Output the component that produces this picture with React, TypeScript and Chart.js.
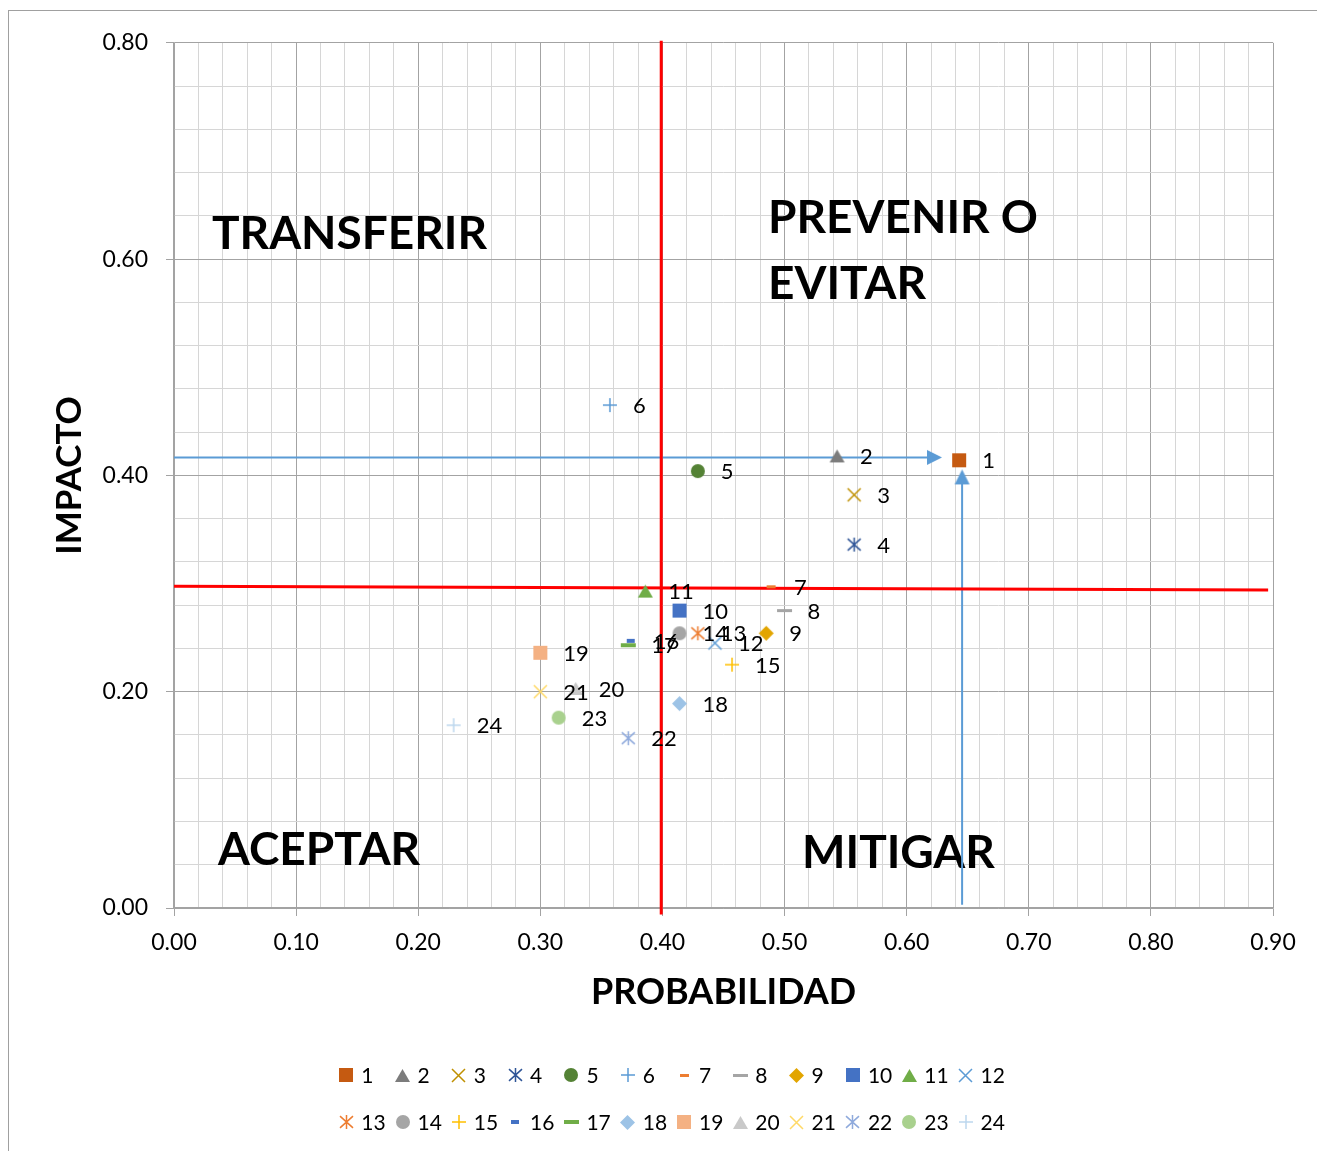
import React, { useEffect, useRef } from 'react';
import { Chart, registerables } from 'chart.js';

Chart.register(...registerables);

const FONT = 'Lato';

// ---- data ----
const seriesLabels = ['1', '2', '3', '4', '5', '6', '7', '8', '9', '10', '11', '12', '13', '14', '15', '16', '17', '18', '19', '20', '21', '22', '23', '24'];
const probabilidad = [0.643, 0.543, 0.557, 0.557, 0.429, 0.357, 0.489, 0.500, 0.485, 0.414, 0.386, 0.443, 0.429, 0.414, 0.457, 0.374, 0.372, 0.414, 0.300, 0.329, 0.300, 0.372, 0.315, 0.229];
const impacto = [0.414, 0.418, 0.382, 0.336, 0.404, 0.465, 0.297, 0.275, 0.254, 0.275, 0.293, 0.245, 0.254, 0.254, 0.225, 0.247, 0.243, 0.189, 0.236, 0.203, 0.200, 0.157, 0.176, 0.169];

const xTickLabels = ['0.00', '0.10', '0.20', '0.30', '0.40', '0.50', '0.60', '0.70', '0.80', '0.90'];
const yTickLabels = ['0.00', '0.20', '0.40', '0.60', '0.80'];

const quadrantLabels = ['TRANSFERIR', 'PREVENIR O', 'EVITAR', 'ACEPTAR', 'MITIGAR'];
const quadrantLabelX = [0.0311, 0.4865, 0.4865, 0.036, 0.5143];
const quadrantLabelY = [0.6092, 0.624, 0.5631, 0.0396, 0.0369];

const limiteProbX = [0.399, 0.399];
const limiteProbY = [0.802, -0.006];
const limiteImpX = [0, 0.896];
const limiteImpY = [0.2975, 0.294];
const flechaProbX = [0, 0.6228];
const flechaProbY = [0.4166, 0.4166];
const flechaImpX = [0.6454, 0.6454];
const flechaImpY = [0.003, 0.3986];

// ---- styles ----
const markerKinds = ['square', 'triangle', 'x', 'star', 'circle', 'plus', 'dash', 'dash', 'diamond', 'square', 'triangle', 'x', 'star', 'circle', 'plus', 'dash', 'dash', 'diamond', 'square', 'triangle', 'x', 'star', 'circle', 'plus'];
const markerColors = ['#C55A11', '#7C7C7C', '#BF9000', '#2F5597', '#548235', '#5B9BD5', '#ED7D31', '#A5A5A5', '#E2A500', '#4472C4', '#70AD47', '#5B9BD5', '#ED7D31', '#A5A5A5', '#FFC000', '#4472C4', '#70AD47', '#9DC3E6', '#F4B183', '#C9C9C9', '#FFD966', '#8FAADC', '#A9D18E', '#BDD7EE'];
const markerW = [14, 15, 13, 13, 14, 14, 9, 15, 15, 14, 15, 13, 13, 14, 14, 8, 15, 15, 14, 15, 13, 13, 14, 14];
const markerH = [14, 13, 13, 14, 14, 14, 3, 3, 15, 14, 13, 13, 14, 14, 14, 4, 4, 15, 14, 13, 13, 14, 14, 14];

function makeMarker(kind: string, color: string, w: number, h: number): HTMLCanvasElement {
  const c = document.createElement('canvas');
  const pad = 2;
  c.width = Math.ceil(w + pad * 2);
  c.height = Math.ceil(h + pad * 2);
  const g = c.getContext('2d') as CanvasRenderingContext2D;
  const cx = c.width / 2;
  const cy = c.height / 2;
  g.fillStyle = color;
  g.strokeStyle = color;
  g.lineWidth = 1.5;
  g.beginPath();
  switch (kind) {
    case 'square':
    case 'dash':
      g.fillRect(cx - w / 2, cy - h / 2, w, h);
      break;
    case 'circle':
      g.ellipse(cx, cy, w / 2, h / 2, 0, 0, Math.PI * 2);
      g.fill();
      break;
    case 'triangle':
    case 'arrow':
      g.moveTo(cx, cy - h / 2);
      g.lineTo(cx + w / 2, cy + h / 2);
      g.lineTo(cx - w / 2, cy + h / 2);
      g.closePath();
      g.fill();
      break;
    case 'diamond':
      g.moveTo(cx, cy - h / 2);
      g.lineTo(cx + w / 2, cy);
      g.lineTo(cx, cy + h / 2);
      g.lineTo(cx - w / 2, cy);
      g.closePath();
      g.fill();
      break;
    case 'x':
      g.moveTo(cx - w / 2, cy - h / 2);
      g.lineTo(cx + w / 2, cy + h / 2);
      g.moveTo(cx + w / 2, cy - h / 2);
      g.lineTo(cx - w / 2, cy + h / 2);
      g.stroke();
      break;
    case 'star':
      g.moveTo(cx - w / 2, cy - h / 2.4);
      g.lineTo(cx + w / 2, cy + h / 2.4);
      g.moveTo(cx + w / 2, cy - h / 2.4);
      g.lineTo(cx - w / 2, cy + h / 2.4);
      g.moveTo(cx, cy - h / 2);
      g.lineTo(cx, cy + h / 2);
      g.stroke();
      break;
    case 'plus':
      g.moveTo(cx - w / 2, cy);
      g.lineTo(cx + w / 2, cy);
      g.moveTo(cx, cy - h / 2);
      g.lineTo(cx, cy + h / 2);
      g.stroke();
      break;
  }
  return c;
}

const isMajorX = (v: number) => Math.abs(v * 10 - Math.round(v * 10)) < 1e-6;
const isMajorY = (v: number) => Math.abs(v * 5 - Math.round(v * 5)) < 1e-6;
const MAJOR = '#a3a3a3';
const MINOR = '#d6d6d6';

export default function App() {
  const canvasRef = useRef<HTMLCanvasElement | null>(null);

  useEffect(() => {
    const canvas = canvasRef.current;
    if (!canvas) return;
    const markers = seriesLabels.map((_, i) => makeMarker(markerKinds[i], markerColors[i], markerW[i], markerH[i]));
    const arrow = makeMarker('arrow', '#5B9BD5', 15, 15);

    const pointDatasets = seriesLabels.map((lbl, i) => ({
      label: lbl,
      data: [{ x: probabilidad[i], y: impacto[i] }],
      pointStyle: markers[i],
      pointRadius: 6,
      backgroundColor: markerColors[i],
      borderColor: markerColors[i],
      showLine: false,
      order: 0,
    }));

    const lineDs = (label: string, xs: number[], ys: number[], color: string, width: number, head: boolean, rot: number) => ({
      label,
      data: xs.map((x, k) => ({ x, y: ys[k] })),
      showLine: true,
      borderColor: color,
      backgroundColor: color,
      borderWidth: width,
      pointRadius: head ? [0, 6] : 0,
      pointStyle: head ? arrow : 'circle',
      rotation: rot,
      clip: false as any,
      order: 1,
    });

    const lineDatasets = [
      lineDs('limiteProb', limiteProbX, limiteProbY, '#FF0000', 3, false, 0),
      lineDs('limiteImp', limiteImpX, limiteImpY, '#FF0000', 3, false, 0),
      lineDs('flechaProb', flechaProbX, flechaProbY, '#5B9BD5', 2, true, 90),
      lineDs('flechaImp', flechaImpX, flechaImpY, '#5B9BD5', 2, true, 0),
    ];

    const quadrantPlugin = {
      id: 'quadrantText',
      beforeDatasetsDraw(chart: any) {
        const { ctx, scales } = chart;
        ctx.save();
        ctx.font = `bold 46px ${FONT}`;
        ctx.fillStyle = '#000';
        ctx.textAlign = 'left';
        ctx.textBaseline = 'alphabetic';
        quadrantLabels.forEach((t, i) => {
          ctx.fillText(t, scales.x.getPixelForValue(quadrantLabelX[i]), scales.y.getPixelForValue(quadrantLabelY[i]));
        });
        ctx.restore();
      },
    };

    const dataLabelPlugin = {
      id: 'dataLabels',
      afterDatasetsDraw(chart: any) {
        const ctx = chart.ctx;
        ctx.save();
        ctx.font = `22px ${FONT}`;
        ctx.fillStyle = '#000';
        ctx.textAlign = 'left';
        ctx.textBaseline = 'middle';
        seriesLabels.forEach((lbl, i) => {
          const pt = chart.getDatasetMeta(i).data[0];
          if (pt) ctx.fillText(lbl, pt.x + 23, pt.y + 1);
        });
        ctx.restore();
      },
    };

    const legendPlugin = {
      id: 'gridLegend',
      afterDraw(chart: any) {
        const ctx = chart.ctx;
        const cell = 56.3;
        const perRow = 12;
        const left = (chart.width - perRow * cell) / 2;
        const rows = [chart.chartArea.bottom + 167, chart.chartArea.bottom + 214];
        ctx.save();
        ctx.font = `21px ${FONT}`;
        ctx.fillStyle = '#000';
        ctx.textAlign = 'left';
        ctx.textBaseline = 'middle';
        seriesLabels.forEach((lbl, i) => {
          const row = Math.floor(i / perRow);
          const col = i % perRow;
          const cx = left + col * cell + 10;
          const cy = rows[row];
          const img = markers[i];
          ctx.drawImage(img, Math.round(cx - img.width / 2), Math.round(cy - img.height / 2));
          ctx.fillText(lbl, cx + 15, cy + 1);
        });
        ctx.restore();
      },
    };

    const chart = new Chart(canvas, {
      type: 'scatter',
      data: { datasets: [...pointDatasets, ...lineDatasets] as any },
      options: {
        animation: false,
        responsive: true,
        maintainAspectRatio: false,
        layout: { padding: { left: 0, right: 66, top: 29, bottom: 123 } },
        plugins: {
          legend: { display: false },
          tooltip: { enabled: false },
        },
        scales: {
          x: {
            type: 'linear',
            min: 0,
            max: 0.9,
            afterFit: (s: any) => { s.height = 120; },
            ticks: {
              stepSize: 0.02,
              autoSkip: false,
              maxRotation: 0,
              minRotation: 0,
              padding: 13,
              color: '#000',
              font: { family: FONT, size: 23 },
              callback: (v: any) => (isMajorX(Number(v)) ? xTickLabels[Math.round(Number(v) * 10)] : ''),
            },
            grid: {
              color: (c: any) => (isMajorX(c.tick.value) ? MAJOR : MINOR),
              tickColor: (c: any) => (isMajorX(c.tick.value) ? MAJOR : 'rgba(0,0,0,0)'),
              lineWidth: 1,
              tickLength: 8,
            },
            border: { color: MAJOR, width: 1.5 },
            title: {
              display: true,
              text: 'PROBABILIDAD',
              color: '#000',
              font: { family: FONT, size: 36, weight: 'bold' },
              padding: { top: 0, bottom: 14 },
            },
          },
          y: {
            type: 'linear',
            min: 0,
            max: 0.8,
            afterFit: (s: any) => { s.width = 165; },
            ticks: {
              stepSize: 0.04,
              autoSkip: false,
              padding: 18,
              color: '#000',
              font: { family: FONT, size: 23 },
              callback: (v: any) => (isMajorY(Number(v)) ? yTickLabels[Math.round(Number(v) * 5)] : ''),
            },
            grid: {
              color: (c: any) => (isMajorY(c.tick.value) ? MAJOR : MINOR),
              tickColor: (c: any) => (isMajorY(c.tick.value) ? MAJOR : 'rgba(0,0,0,0)'),
              lineWidth: 1,
              tickLength: 8,
            },
            border: { color: MAJOR, width: 1.5 },
            title: {
              display: true,
              text: 'IMPACTO',
              color: '#000',
              font: { family: FONT, size: 35, weight: 'bold' },
              padding: { top: 40, bottom: 0 },
            },
          },
        },
      } as any,
      plugins: [quadrantPlugin, dataLabelPlugin, legendPlugin],
    });
    return () => chart.destroy();
  }, []);

  return (
    <div style={{ position: 'fixed', left: 8, top: 10, width: 1309, height: 1141, overflow: 'hidden' }}>
      <div style={{ position: 'relative', width: 1330, height: 1140, border: '1px solid #a0a0a0', background: '#fff' }}>
        <canvas ref={canvasRef} />
      </div>
    </div>
  );
}
